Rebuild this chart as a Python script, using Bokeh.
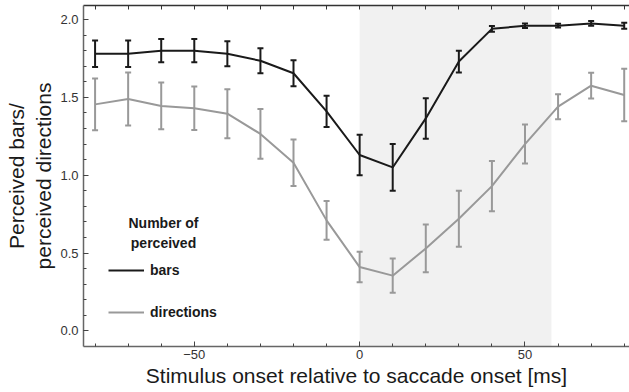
from bokeh.plotting import figure
from bokeh.models import (ColumnDataSource, Whisker, TeeHead, BoxAnnotation, Range1d,
                          LinearAxis, FixedTicker, Legend, LegendItem, Label,
                          PrintfTickFormatter)
from bokeh.embed import file_html
from bokeh.resources import INLINE

# Stimulus onset relative to saccade onset (ms)
onset_ms = [-80, -70, -60, -50, -40, -30, -20, -10, 0, 10, 20, 30, 40, 50, 60, 70, 80]

# Number of perceived bars (mean and error)
bars_mean = [1.78, 1.78, 1.80, 1.80, 1.78, 1.735, 1.655, 1.41, 1.13, 1.05,
             1.365, 1.73, 1.94, 1.96, 1.96, 1.975, 1.96]
bars_err = [0.085, 0.085, 0.075, 0.075, 0.08, 0.08, 0.083, 0.10, 0.13, 0.15,
            0.13, 0.07, 0.018, 0.015, 0.012, 0.015, 0.02]

# Number of perceived directions (mean and error)
dirs_mean = [1.455, 1.49, 1.445, 1.43, 1.395, 1.265, 1.08, 0.71, 0.41, 0.355,
             0.53, 0.72, 0.93, 1.20, 1.44, 1.575, 1.515]
dirs_err = [0.166, 0.17, 0.15, 0.14, 0.157, 0.16, 0.15, 0.125, 0.098, 0.11,
            0.153, 0.18, 0.162, 0.125, 0.08, 0.083, 0.168]

# Saccade period shading (ms)
saccade_start = 0
saccade_end = 58

x_major = [-50, 0, 50]
x_minor = list(range(-80, 90, 10))
y_major = [0.0, 0.5, 1.0, 1.5, 2.0]
y_minor = [round(0.1 * k, 1) for k in range(0, 21)]

FONT = "Liberation Sans"
BLACK = "#1a1a1a"
GREY = "#999999"

bars_src = ColumnDataSource(dict(
    x=onset_ms, y=bars_mean,
    upper=[m + e for m, e in zip(bars_mean, bars_err)],
    lower=[m - e for m, e in zip(bars_mean, bars_err)]))
dirs_src = ColumnDataSource(dict(
    x=onset_ms, y=dirs_mean,
    upper=[m + e for m, e in zip(dirs_mean, dirs_err)],
    lower=[m - e for m, e in zip(dirs_mean, dirs_err)]))

p = figure(width=629, height=392, output_backend="svg", toolbar_location=None,
           x_range=Range1d(-83.5, 81.6), y_range=Range1d(-0.1, 2.09),
           min_border_left=83, min_border_right=0, min_border_top=5,
           min_border_bottom=46)
p.outline_line_color = None
p.xgrid.visible = False
p.ygrid.visible = False
p.background_fill_color = "white"
p.border_fill_color = "white"

p.add_layout(BoxAnnotation(left=saccade_start, right=saccade_end,
                           fill_color="#f1f1f1", fill_alpha=1.0,
                           line_color=None, level="underlay"))

# directions (grey) below bars (black)
r_dirs = p.line("x", "y", source=dirs_src, line_color=GREY, line_width=2)
p.add_layout(Whisker(base="x", upper="upper", lower="lower", source=dirs_src,
                     dimension="height", line_color=GREY, line_width=2,
                     upper_head=TeeHead(size=6, line_color=GREY, line_width=2),
                     lower_head=TeeHead(size=6, line_color=GREY, line_width=2)))
r_bars = p.line("x", "y", source=bars_src, line_color=BLACK, line_width=2)
p.add_layout(Whisker(base="x", upper="upper", lower="lower", source=bars_src,
                     dimension="height", line_color=BLACK, line_width=2,
                     upper_head=TeeHead(size=6, line_color=BLACK, line_width=2),
                     lower_head=TeeHead(size=6, line_color=BLACK, line_width=2)))

# bottom axis
xa = p.xaxis[0]
xa.ticker = FixedTicker(ticks=x_major, minor_ticks=x_minor)
xa.major_label_overrides = {-50: "\u221250"}
xa.axis_label = "Stimulus onset relative to saccade onset [ms]"
xa.axis_label_text_font = FONT
xa.axis_label_text_font_size = "21px"
xa.axis_label_text_font_style = "normal"
xa.axis_label_text_color = BLACK
xa.axis_label_standoff = 2
xa.major_label_text_font = FONT
xa.major_label_text_font_size = "13px"
xa.major_label_text_color = "#333333"
xa.major_label_standoff = 3
xa.major_tick_in = 5
xa.major_tick_out = 0
xa.minor_tick_in = 3
xa.minor_tick_out = 0
xa.axis_line_color = "#666666"
xa.axis_line_width = 1.5
xa.major_tick_line_color = "#444444"
xa.minor_tick_line_color = "#444444"

# left axis
ya = p.yaxis[0]
ya.ticker = FixedTicker(ticks=y_major, minor_ticks=y_minor)
ya.formatter = PrintfTickFormatter(format="%.1f")
ya.axis_label = "Perceived bars/\nperceived directions"
ya.axis_label_text_font = FONT
ya.axis_label_text_font_size = "21px"
ya.axis_label_text_font_style = "normal"
ya.axis_label_text_color = BLACK
ya.axis_label_standoff = 2
ya.major_label_text_font = FONT
ya.major_label_text_font_size = "13px"
ya.major_label_text_color = "#333333"
ya.major_label_standoff = 5
ya.major_tick_in = 5
ya.major_tick_out = 0
ya.minor_tick_in = 3
ya.minor_tick_out = 0
ya.axis_line_color = "#666666"
ya.axis_line_width = 1.5
ya.major_tick_line_color = "#444444"
ya.minor_tick_line_color = "#444444"

# top frame edge with inward ticks, labels not drawn
top = LinearAxis(ticker=FixedTicker(ticks=x_minor))
top.major_label_text_font_size = "1px"
top.major_label_text_color = None
top.major_label_standoff = 0
top.major_tick_in = 4
top.major_tick_out = 0
top.minor_tick_in = 0
top.minor_tick_out = 0
top.axis_line_color = "#333333"
top.axis_line_width = 1.5
top.major_tick_line_color = "#333333"
p.add_layout(top, "above")

# legend
legend = Legend(items=[LegendItem(label="bars", renderers=[r_bars]),
                       LegendItem(label="directions", renderers=[r_dirs])],
                location=(25, 24), orientation="vertical",
                padding=0, margin=0, spacing=22,
                glyph_width=36, glyph_height=20, label_height=20,
                label_standoff=6, border_line_color=None,
                background_fill_alpha=0.0,
                label_text_font=FONT, label_text_font_size="14px",
                label_text_font_style="bold", label_text_color=BLACK)
p.add_layout(legend, "center")

for txt, yy in (("Number of", 124), ("perceived", 104)):
    p.add_layout(Label(x=80, y=yy, x_units="screen", y_units="screen", text=txt,
                       text_align="center", text_baseline="middle",
                       text_font=FONT, text_font_size="14px",
                       text_font_style="bold", text_color=BLACK))

open("out.html", "w").write(file_html(p, INLINE))
